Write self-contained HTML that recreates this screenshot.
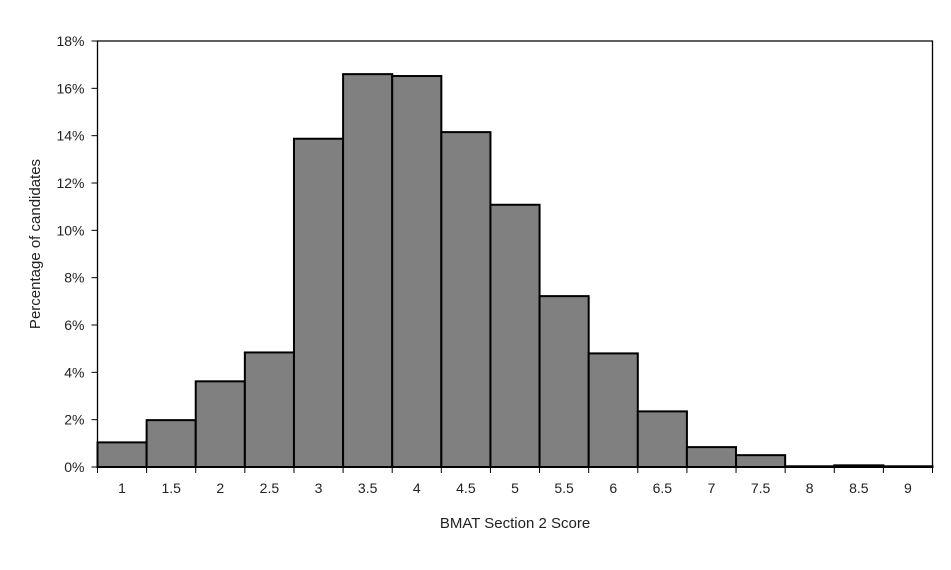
<!DOCTYPE html>
<html><head><meta charset="utf-8"><style>
body{margin:0;background:#fff;}
svg{display:block;font-family:"Liberation Sans",sans-serif;}
</style></head><body>
<svg id="chart" width="951" height="570" viewBox="0 0 951 570"></svg>
<script>
const categories=["1","1.5","2","2.5","3","3.5","4","4.5","5","5.5","6","6.5","7","7.5","8","8.5","9"];
const values=[1.04,1.98,3.62,4.84,13.87,16.6,16.52,14.15,11.08,7.22,4.8,2.35,0.84,0.5,0.03,0.07,0.03];
const yTicks=[0,2,4,6,8,10,12,14,16,18];
const L=97.5,R=932.5,T=41,B=467,yMax=18;
const svg=document.getElementById('chart');
const NS='http://www.w3.org/2000/svg';
function y(v){return B-(v/yMax)*(B-T);}
const bw=(R-L)/categories.length;
function x(i){return L+i*bw;}
function mk(tag,attrs,parent){const e=document.createElementNS(NS,tag);for(const k in attrs)e.setAttribute(k,attrs[k]);(parent||svg).appendChild(e);return e;}
const frame=mk('path',{d:`M${L},${B} V${T} H${R} V${B}`,fill:'none',stroke:'#000','stroke-width':1.3});


yTicks.forEach(t=>{
  const ln=mk('line',{x1:L-6,x2:L,y1:y(t),y2:y(t),stroke:'#000','stroke-width':1});
  
  
  const tx=mk('text',{x:L-13,y:y(t)+5,'text-anchor':'end','font-size':14,fill:'#222'});
  tx.textContent=t+'%';
  
  
});
values.forEach((v,i)=>{
  const r=mk('rect',{x:x(i),y:y(v),width:bw,height:B-y(v),fill:'#808080',stroke:'#000','stroke-width':2});
  
  
});
const ax=mk('line',{x1:L,x2:R,y1:B,y2:B,stroke:'#000','stroke-width':1.5});


for(let i=0;i<=categories.length;i++){
  const tk=mk('line',{x1:x(i),x2:x(i),y1:B,y2:B+6,stroke:'#000','stroke-width':1});
  
  
}
categories.forEach((c,i)=>{
  const tx=mk('text',{x:x(i)+bw/2,y:B+26,'text-anchor':'middle','font-size':14,fill:'#222'});
  tx.textContent=c;
  
  
});
const xt=mk('text',{x:(L+R)/2,y:528,'text-anchor':'middle','font-size':15,fill:'#222'});
xt.textContent='BMAT Section 2 Score';


const yt=mk('text',{x:0,y:0,'text-anchor':'middle','font-size':15,fill:'#222',transform:`translate(40,${(T+B)/2-10}) rotate(-90)`});
yt.textContent='Percentage of candidates';


</script>
</body></html>
